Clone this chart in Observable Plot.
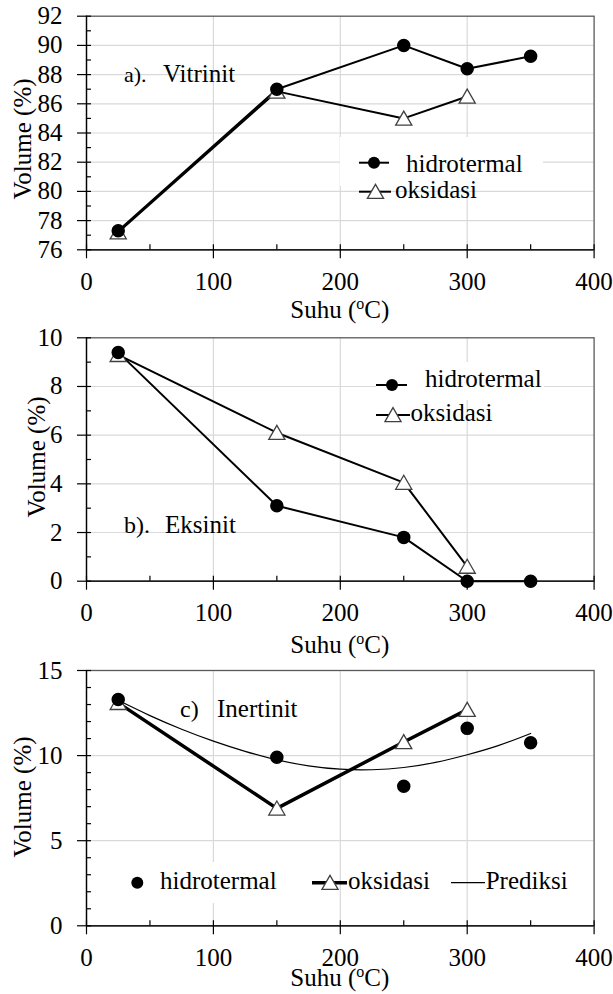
<!DOCTYPE html>
<html><head><meta charset="utf-8">
<script src="https://cdn.jsdelivr.net/npm/d3@7"></script>
<script src="https://cdn.jsdelivr.net/npm/@observablehq/plot@0.6"></script>
<style>
html,body{margin:0;padding:0;background:#fff;}
#chart svg{display:block;overflow:visible;}
</style></head><body><div id="chart"></div>
<script>
// ---- data ----
const suhu = [25, 150, 250, 300, 350];
const suhuOks = [25, 150, 250, 300];
const vitrinitHidro = [77.3, 87.0, 90.0, 88.4, 89.25];
const vitrinitOks = [77.2, 86.85, 85.0, 86.5];
const eksinitHidro = [9.4, 3.1, 1.8, 0, 0];
const eksinitOks = [9.3, 6.1, 4.05, 0.6];
const inertinitHidro = [13.3, 9.9, 8.2, 11.6, 10.75];
const inertinitOks = [13.1, 6.9, 10.8, 12.7];
const prediksiSuhu = [25, 50, 75, 100, 125, 150, 175, 200, 225, 250, 275, 300, 325, 350];
const prediksi = [13.25, 12.35, 11.55, 10.85, 10.25, 9.75, 9.4, 9.2, 9.17, 9.3, 9.6, 10.05, 10.6, 11.3];
const xTicks = [0, 100, 200, 300, 400];
const xMinor = [50, 150, 250, 350];
const xGrid = [100, 200, 300];
const aTicks = [76, 78, 80, 82, 84, 86, 88, 90, 92];
const aMinor = [77, 79, 81, 83, 85, 87, 89, 91];
const bTicks = [0, 2, 4, 6, 8, 10];
const bMinor = [1, 3, 5, 7, 9];
const cTicks = [0, 5, 10, 15];
const cMinor = [1, 2, 3, 4, 6, 7, 8, 9, 11, 12, 13, 14];
const labelSeries = ["hidrotermal", "oksidasi", "Prediksi"];

const tbl = (xs, ys) => xs.map((s, i) => ({suhu: s, v: ys[i]}));
const FONT = "Liberation Serif, Times New Roman, serif";
const W = 613, ML = 86, MR = 19.4;

function panel(cfg) {
  const {H, mt, mb, yDomain, yMajor, yMinor, marks} = cfg;
  const pw = W - ML - MR, ph = H - mt - mb;
  const yInner = yMajor.filter(v => v > yDomain[0] && v < yDomain[1]);
  const svg = Plot.plot({
    width: W, height: H, marginLeft: ML, marginRight: MR, marginTop: mt, marginBottom: mb,
    x: {domain: [0, 400]}, y: {domain: yDomain},
    style: {fontFamily: FONT, fontSize: "25px", color: "black", background: "transparent", overflow: "visible"},
    marks: [
      Plot.gridX({ticks: xGrid, stroke: "#d9d9d9", strokeOpacity: 1, strokeWidth: 1.2}),
      Plot.gridY({ticks: yInner, stroke: "#d9d9d9", strokeOpacity: 1, strokeWidth: 1.2}),
      Plot.frame({stroke: "#595959", strokeWidth: 1.3}),
      Plot.ruleX([0], {stroke: "black", strokeWidth: 1.3}),
      Plot.ruleY([yDomain[0]], {stroke: "black", strokeWidth: 1.3}),
      Plot.tickX(xTicks, {x: d => d, insetTop: ph - 5, insetBottom: -9, stroke: "black", strokeWidth: 1.2}),
      Plot.tickX(xMinor, {x: d => d, insetTop: ph - 5, stroke: "black", strokeWidth: 1.2}),
      Plot.tickY(yMajor, {y: d => d, insetRight: pw - 5, insetLeft: -9, stroke: "black", strokeWidth: 1.2}),
      Plot.tickY(yMinor, {y: d => d, insetRight: pw - 5, stroke: "black", strokeWidth: 1.2}),
      Plot.axisX({ticks: xTicks, tickSize: 0, tickPadding: 22, label: null, fontSize: 25}),
      Plot.axisY({ticks: yMajor, tickSize: 0, tickPadding: 24, label: null, fontSize: 25}),
      ...marks
    ]
  });
  const s = d3.select(svg);
  if (cfg.legendBox) {
    const [x0, y0, x1, y1] = cfg.legendBox;
    const r = document.createElementNS("http://www.w3.org/2000/svg", "rect");
    r.setAttribute("x", x0); r.setAttribute("y", y0);
    r.setAttribute("width", x1 - x0); r.setAttribute("height", y1 - y0);
    r.setAttribute("fill", "white");
    svg.querySelector('[aria-label="y-grid"]').after(r);
  }
  const xs = svg.scale("x");
  const cx = (xs.apply(0) + xs.apply(400)) / 2;
  const txt = () => s.append("text").attr("font-family", FONT).attr("fill", "black").attr("text-anchor", "start");
  // y axis label
  txt().attr("transform", `translate(${cfg.yLabX},${cfg.yLabY}) rotate(-90)`)
    .attr("text-anchor", "middle").attr("dy", "0.32em").attr("font-size", 25).text("Volume (%)");
  // x axis label with superscript
  const t = txt().attr("x", cx).attr("y", cfg.xLabY).attr("text-anchor", "middle").attr("font-size", 25);
  t.append("tspan").text("Suhu (");
  t.append("tspan").attr("dy", -9).attr("font-size", 16).text("o");
  t.append("tspan").attr("dy", 9).text("C)");
  // panel annotation
  txt().attr("x", cfg.tagX).attr("y", cfg.tagY).attr("font-size", cfg.tagSize).text(cfg.tag);
  txt().attr("x", cfg.nameX).attr("y", cfg.tagY).attr("font-size", 25).text(cfg.name);
  // legend
  const tri = d3.symbol(d3.symbolTriangle, Math.PI * 36);
  for (const e of cfg.legend) {
    if (e.line) s.append("line").attr("x1", e.line[0]).attr("x2", e.line[1]).attr("y1", e.y).attr("y2", e.y)
      .attr("stroke", "black").attr("stroke-width", e.lw);
    if (e.sym === "circle") s.append("circle").attr("cx", e.sx).attr("cy", e.y).attr("r", 6).attr("fill", "black");
    if (e.sym === "tri") s.append("path").attr("d", tri()).attr("transform", `translate(${e.sx},${e.y + 2})`)
      .attr("fill", "white").attr("stroke", "#404040").attr("stroke-width", 1.3);
    txt().attr("x", e.tx).attr("y", e.ty).attr("font-size", 25).text(e.label);
  }
  return svg;
}

const oksDots = d => Plot.dot(d, {x: "suhu", y: "v", symbol: "triangle", r: 6, fill: "white", stroke: "#404040", strokeWidth: 1.3, dy: 2});
const hidDots = d => Plot.dot(d, {x: "suhu", y: "v", r: 6, fill: "black", stroke: "black"});

const aH = tbl(suhu, vitrinitHidro), aO = tbl(suhuOks, vitrinitOks);
const bH = tbl(suhu, eksinitHidro), bO = tbl(suhuOks, eksinitOks);
const cH = tbl(suhu, inertinitHidro), cO = tbl(suhuOks, inertinitOks), cP = tbl(prediksiSuhu, prediksi);

const root = document.getElementById("chart");

root.append(panel({
  H: 330, mt: 15.7, mb: 80.7, yDomain: [76, 92], yMajor: aTicks, yMinor: aMinor,
  marks: [
    Plot.line(aO, {x: "suhu", y: "v", stroke: "black", strokeWidth: 2}),
    Plot.line(aH, {x: "suhu", y: "v", stroke: "black", strokeWidth: 2}),
    oksDots(aO), hidDots(aH)
  ],
  legendBox: [340, 137, 543, 186],
  yLabX: 23, yLabY: 139, xLabY: 317.7,
  tag: "a).", tagX: 124, tagY: 81.5, tagSize: 22, name: "Vitrinit", nameX: 163,
  legend: [
    {line: [359, 389], lw: 2, y: 162.7, sym: "circle", sx: 374, tx: 406, ty: 171.5, label: labelSeries[0]},
    {line: [359, 391], lw: 2, y: 191.7, sym: "tri", sx: 375.5, tx: 395, ty: 198, label: labelSeries[1]}
  ]
}));

root.append(panel({
  H: 325, mt: 7.3, mb: 74.3, yDomain: [0, 10], yMajor: bTicks, yMinor: bMinor,
  marks: [
    Plot.line(bO, {x: "suhu", y: "v", stroke: "black", strokeWidth: 2}),
    Plot.line(bH, {x: "suhu", y: "v", stroke: "black", strokeWidth: 2}),
    oksDots(bO), hidDots(bH)
  ],
  legendBox: [376, 32, 544, 70],
  yLabX: 37, yLabY: 127, xLabY: 322.7,
  tag: "b).", tagX: 124, tagY: 202.5, tagSize: 24, name: "Eksinit", nameX: 165,
  legend: [
    {line: [376, 407], lw: 2, y: 55, sym: "circle", sx: 392, tx: 425, ty: 57.3, label: labelSeries[0]},
    {line: [376, 410], lw: 2, y: 85, sym: "tri", sx: 393, tx: 410.5, ty: 90.7, label: labelSeries[1]}
  ]
}));

root.append(panel({
  H: 339, mt: 15, mb: 68.7, yDomain: [0, 15], yMajor: cTicks, yMinor: cMinor,
  marks: [
    Plot.line(cP, {x: "suhu", y: "v", stroke: "black", strokeWidth: 1.2, curve: "natural"}),
    Plot.line(cO, {x: "suhu", y: "v", stroke: "black", strokeWidth: 3.5}),
    oksDots(cO), hidDots(cH)
  ],
  legendBox: [118, 207, 305, 248],
  yLabX: 23, yLabY: 142, xLabY: 330.5,
  tag: "c)", tagX: 180, tagY: 61.7, tagSize: 24, name: "Inertinit", nameX: 217,
  legend: [
    {sym: "circle", sx: 137.3, y: 227.7, tx: 160, ty: 234, label: labelSeries[0]},
    {line: [312, 347], lw: 3.5, y: 227.7, sym: "tri", sx: 330, tx: 348, ty: 234, label: labelSeries[1]},
    {line: [451, 485], lw: 1.2, y: 227.7, tx: 485.7, ty: 234, label: labelSeries[2]}
  ]
}));
</script></body></html>
